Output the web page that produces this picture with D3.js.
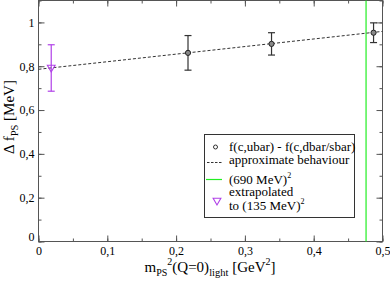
<!DOCTYPE html>
<html><head><meta charset="utf-8">
<script src="https://cdn.jsdelivr.net/npm/d3@7"></script>
<style>body{margin:0;background:#fff}svg text{font-family:"Liberation Serif","Times New Roman",serif;fill:#000}</style>
</head><body><svg id="c" width="390" height="283"></svg>
<script>
// data
const pointsX = [0.2173, 0.3387, 0.487];
const pointsY = [0.861, 0.902, 0.953];
const pointsErr = [0.079, 0.051, 0.045];
const extrapX = [0.0185];
const extrapY = [0.792];
const extrapErr = [0.106];
const fitX = [0, 0.5];
const fitY = [0.786, 0.959];
const vlineX = 0.4761;
const xTicks = [0, 0.1, 0.2, 0.3, 0.4, 0.5];
const yTicks = [0, 0.2, 0.4, 0.6, 0.8, 1];
const legendLabels = ["f(c,ubar) - f(c,dbar/sbar)", "approximate behaviour", "(690 MeV)", "extrapolated", "to (135 MeV)"];

const svg = d3.select("#c");
const L = 38.5, R = 382.5, T = 0.5, B = 241.5;
const x = d3.scaleLinear().domain([0, 0.5]).range([L, R]);
const y = d3.scaleLinear().domain([0, 1.1]).range([B, T]);
const axisCol = "#555";
const fmt = d => d3.format("~g")(d).replace(".", ",");

svg.append("rect").attr("x", L).attr("y", T).attr("width", R - L).attr("height", B - T)
  .attr("fill", "none").attr("stroke", axisCol).attr("stroke-width", 1);

const xMinor = d3.range(0, 0.5001, 0.05);
const yMinor = d3.range(0, 1.1001, 0.1);
function addAxis(axis, tr) {
  const g = svg.append("g").attr("transform", tr).call(axis);
  g.select(".domain").remove();
  g.selectAll("line").attr("stroke", axisCol);
  g.attr("font-family", null);
  return g;
}
addAxis(d3.axisBottom(x).tickValues(xMinor).tickSize(-3).tickFormat(""), `translate(0,${B})`);
addAxis(d3.axisTop(x).tickValues(xMinor).tickSize(-3).tickFormat(""), `translate(0,${T})`);
addAxis(d3.axisLeft(y).tickValues(yMinor).tickSize(-3).tickFormat(""), `translate(${L},0)`);
addAxis(d3.axisRight(y).tickValues(yMinor).tickSize(-3).tickFormat(""), `translate(${R},0)`);
const gx = addAxis(d3.axisBottom(x).tickValues(xTicks).tickSize(-6).tickPadding(5).tickFormat(fmt), `translate(0,${B})`);
addAxis(d3.axisTop(x).tickValues(xTicks).tickSize(-6).tickFormat(""), `translate(0,${T})`);
const gy = addAxis(d3.axisLeft(y).tickValues(yTicks).tickSize(-6).tickPadding(4).tickFormat(fmt), `translate(${L},0)`);
addAxis(d3.axisRight(y).tickValues(yTicks).tickSize(-6).tickFormat(""), `translate(${R},0)`);
svg.selectAll(".tick text").attr("font-size", 12).attr("fill", "#000");
gy.selectAll(".tick text").filter(d => d === 0).attr("dy", "-0.05em");

svg.append("line").attr("x1", x(vlineX)).attr("x2", x(vlineX)).attr("y1", T).attr("y2", B)
  .attr("stroke", "#22ee22").attr("stroke-width", 1.2);

svg.append("path").datum(fitX.map((d, i) => [d, fitY[i]]))
  .attr("d", d3.line().x(d => x(d[0])).y(d => y(d[1])))
  .attr("fill", "none").attr("stroke", "#333").attr("stroke-width", 1).attr("stroke-dasharray", "3,2");

function errBars(xs, ys, es, col) {
  const g = svg.append("g").attr("stroke", col).attr("stroke-width", 1.2);
  xs.forEach((xv, i) => {
    const cx = x(xv), y0 = y(ys[i] - es[i]), y1 = y(ys[i] + es[i]);
    g.append("line").attr("x1", cx).attr("x2", cx).attr("y1", y0).attr("y2", y1);
    g.append("line").attr("x1", cx - 3.5).attr("x2", cx + 3.5).attr("y1", y0).attr("y2", y0);
    g.append("line").attr("x1", cx - 3.5).attr("x2", cx + 3.5).attr("y1", y1).attr("y2", y1);
  });
}
errBars(pointsX, pointsY, pointsErr, "#333");
errBars(extrapX, extrapY, extrapErr, "#b040e8");

svg.selectAll(".pt").data(pointsX).join("circle").attr("class", "pt")
  .attr("cx", d => x(d)).attr("cy", (d, i) => y(pointsY[i])).attr("r", 2.6)
  .attr("fill", "#888").attr("stroke", "#222").attr("stroke-width", 1);
const tri = d3.symbol().type(d3.symbolTriangle).size(26);
svg.selectAll(".ex").data(extrapX).join("path").attr("class", "ex")
  .attr("d", tri).attr("transform", (d, i) => `translate(${x(d)},${y(extrapY[i]) - 0.5}) rotate(180)`)
  .attr("fill", "none").attr("stroke", "#b040e8").attr("stroke-width", 1.1);

// legend
const lg = svg.append("g");
lg.append("rect").attr("x", 204.5).attr("y", 134.5).attr("width", 150).attr("height", 83)
  .attr("fill", "#fff").attr("stroke", "#333").attr("stroke-width", 1);
const tx = 229, fs = 13;
lg.append("circle").attr("cx", 215.5).attr("cy", 147).attr("r", 2).attr("fill", "none").attr("stroke", "#333");
lg.append("text").attr("x", tx).attr("y", 151).attr("font-size", fs).text(legendLabels[0]);
lg.append("line").attr("x1", 207).attr("x2", 222).attr("y1", 162.5).attr("y2", 162.5)
  .attr("stroke", "#333").attr("stroke-dasharray", "2.5,1.5");
lg.append("text").attr("x", tx).attr("y", 164).attr("font-size", fs).text(legendLabels[1]);
lg.append("line").attr("x1", 206).attr("x2", 222).attr("y1", 179.5).attr("y2", 179.5).attr("stroke", "#22ee22").attr("stroke-width", 1.2);
const t3 = lg.append("text").attr("x", tx).attr("y", 183.5).attr("font-size", fs);
t3.append("tspan").text(legendLabels[2]);
t3.append("tspan").attr("font-size", 8).attr("dy", -6).text("2");
lg.append("text").attr("x", tx).attr("y", 196).attr("font-size", fs).text(legendLabels[3]);
const t4 = lg.append("text").attr("x", tx).attr("y", 209.5).attr("font-size", fs);
t4.append("tspan").text(legendLabels[4]);
t4.append("tspan").attr("font-size", 8).attr("dy", -6).text("2");
lg.append("path").attr("d", tri).attr("transform", "translate(217,200.5) rotate(180)")
  .attr("fill", "none").attr("stroke", "#b040e8").attr("stroke-width", 1.1);

// x label
const xl = svg.append("text").attr("x", 210).attr("y", 272).attr("text-anchor", "middle").attr("font-size", 15);
xl.append("tspan").text("m");
xl.append("tspan").attr("font-size", 10).attr("dy", 4).text("PS");
xl.append("tspan").attr("font-size", 10).attr("dy", -11).text("2");
xl.append("tspan").attr("dy", 7).text("(Q=0)");
xl.append("tspan").attr("font-size", 10.5).attr("dy", 4).text("light");
xl.append("tspan").attr("dy", -4).text(" [GeV");
xl.append("tspan").attr("font-size", 10).attr("dy", -7).text("2");
xl.append("tspan").attr("dy", 7).text("]");

// y label
const yl = svg.append("text").attr("transform", "translate(14,117) rotate(-90)").attr("text-anchor", "middle").attr("font-size", 15);
yl.append("tspan").text("Δ f");
yl.append("tspan").attr("font-size", 10.5).attr("dy", 4).text("PS");
yl.append("tspan").attr("dy", -4).text(" [MeV]");
</script></body></html>
